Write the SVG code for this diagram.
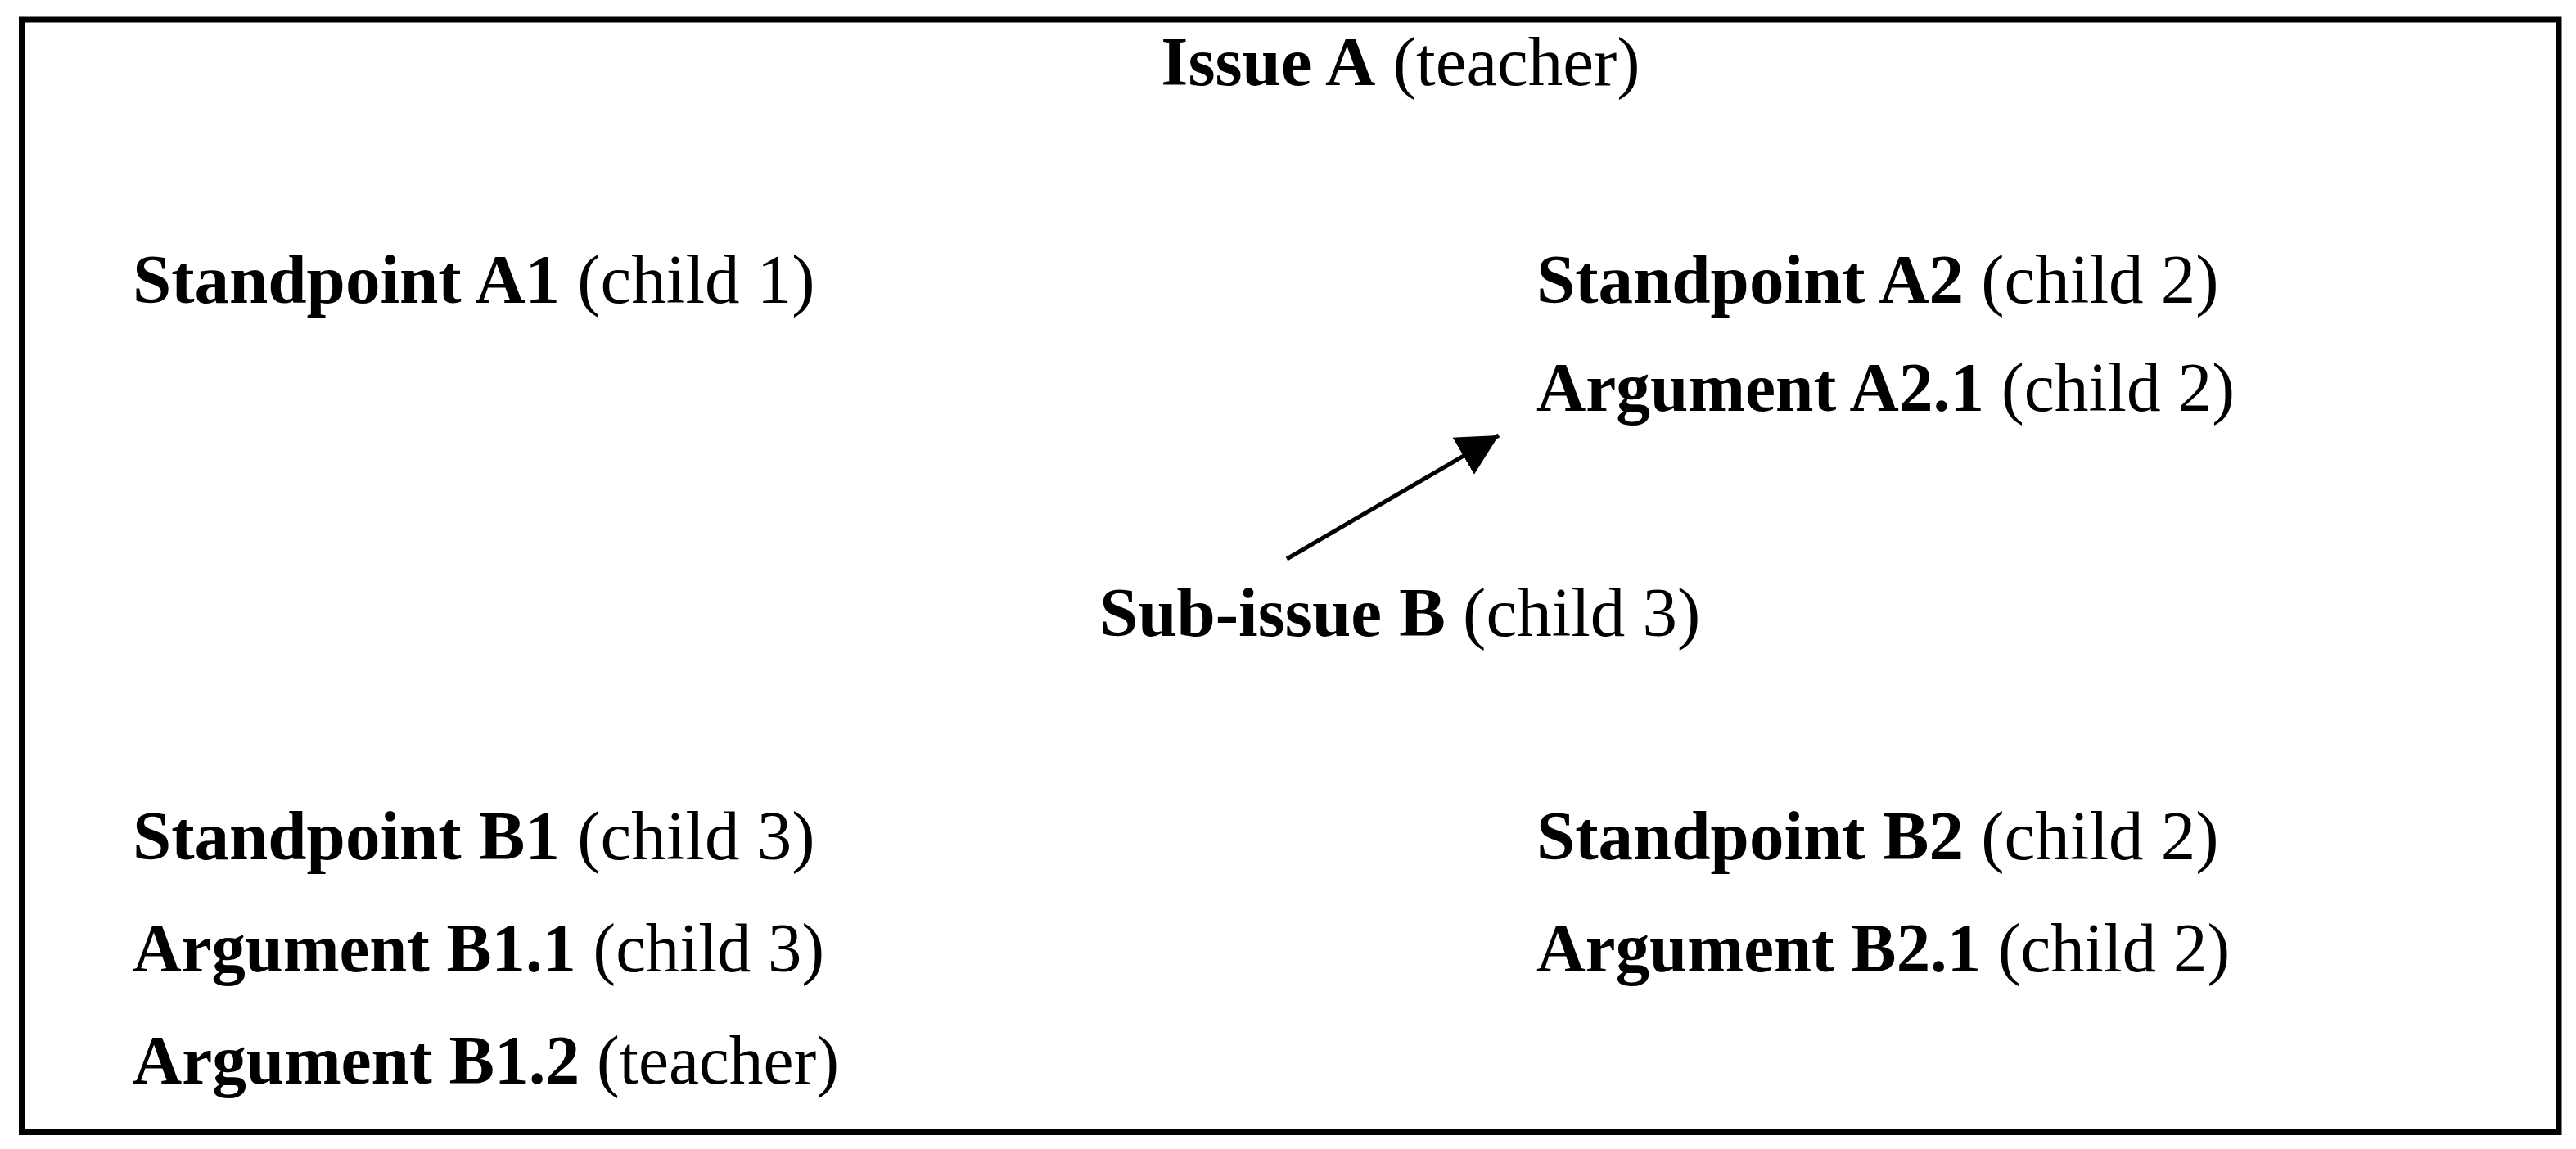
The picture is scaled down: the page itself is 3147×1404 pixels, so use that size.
<svg xmlns="http://www.w3.org/2000/svg" width="3147" height="1404" viewBox="0 0 3147 1404">
<style>
text{font-family:"Liberation Serif","Times New Roman",serif;font-size:85px;fill:#000}
.b{font-weight:bold}
</style>
<defs>
<marker id="ah" markerUnits="userSpaceOnUse" markerWidth="60" markerHeight="60" refX="50" refY="26" orient="auto">
<path d="M0,0 L50,26 L0,52 Z" fill="#000"/>
</marker>
</defs>
<rect x="0" y="0" width="3147" height="1404" fill="#fff"/>
<rect id="frame" x="26.5" y="24" width="3099.5" height="1359.5" fill="none" stroke="#000" stroke-width="7"/>
<g id="connectors">
<line x1="1572" y1="683" x2="1831" y2="532" stroke="#000" stroke-width="5" marker-end="url(#ah)"/>
</g>
<g id="issueA"><text x="1711" y="104" text-anchor="middle"><tspan class="b">Issue A</tspan> (teacher)</text></g>
<g id="standpointA1"><text x="162" y="370"><tspan class="b">Standpoint A1</tspan> (child 1)</text></g>
<g id="standpointA2"><text x="1877" y="370"><tspan class="b">Standpoint A2</tspan> (child 2)</text></g>
<g id="argumentA21"><text x="1877" y="502" textLength="853" lengthAdjust="spacingAndGlyphs"><tspan class="b">Argument A2.1</tspan> (child 2)</text></g>
<g id="subissueB"><text x="1343" y="777"><tspan class="b">Sub-issue B</tspan> (child 3)</text></g>
<g id="standpointB1"><text x="162" y="1050"><tspan class="b">Standpoint B1</tspan> (child 3)</text></g>
<g id="standpointB2"><text x="1877" y="1050"><tspan class="b">Standpoint B2</tspan> (child 2)</text></g>
<g id="argumentB11"><text x="162" y="1187" textLength="845" lengthAdjust="spacingAndGlyphs"><tspan class="b">Argument B1.1</tspan> (child 3)</text></g>
<g id="argumentB21"><text x="1877" y="1187" textLength="847" lengthAdjust="spacingAndGlyphs"><tspan class="b">Argument B2.1</tspan> (child 2)</text></g>
<g id="argumentB12"><text x="162" y="1324" textLength="863" lengthAdjust="spacingAndGlyphs"><tspan class="b">Argument B1.2</tspan> (teacher)</text></g>
</svg>
